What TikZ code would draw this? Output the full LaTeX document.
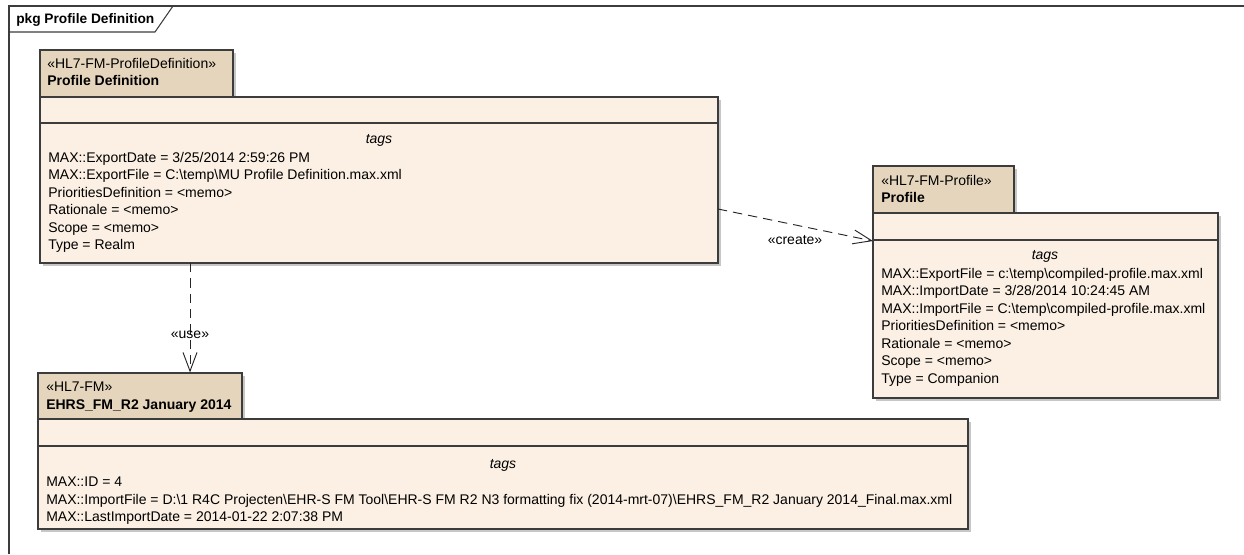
\documentclass[tikz,border=0pt]{standalone}
\usepackage{fontspec}
\setmainfont{Liberation Sans}
\usepackage{xcolor}
\usepackage{tikz}
\usetikzlibrary{fit,shadows,arrows.meta,positioning}

\definecolor{tabfill}{RGB}{229,213,188}
\definecolor{bodyfill}{RGB}{251,240,227}
\definecolor{edgegray}{RGB}{60,60,60}

\tikzset{
    pkgtab/.style={draw=edgegray, line width=0.9pt, fill=tabfill, inner sep=0pt,
        drop shadow={shadow xshift=2.5pt, shadow yshift=-2.5pt, fill=black!22, opacity=1}},
    pkgbody/.style={pkgtab, fill=bodyfill},
    sepline/.style={draw=edgegray, line width=0.8pt},
    frameline/.style={draw=edgegray, line width=0.8pt},
    txt/.style={anchor=north west, inner sep=0pt, align=left, font=\fontsize{10.5}{13.1}\selectfont},
    tagtitle/.style={inner sep=0pt, font=\fontsize{10.5}{13.1}\selectfont\itshape},
    dep/.style={draw=black!85, line width=0.7pt, dash pattern=on 7pt off 4.5pt,
        -{Straight Barb[length=14pt,width=10.5pt,line width=0.7pt]}},
    deplabel/.style={inner sep=0.75pt, font=\fontsize{10.5}{13.1}\selectfont}
}

\begin{document}
\begin{tikzpicture}[x=0.75pt,y=0.75pt,yscale=-1,xscale=1]
    \useasboundingbox (0,0) rectangle (1244,554);
    % frame
    \draw[frameline] (9,554) -- (9,6) -- (1244,6) ;
    \draw[frameline] (9,32) -- (155,32) -- (173,6) ;
    \node[anchor=west, inner sep=0pt, font=\fontsize{10.3}{13.1}\selectfont\bfseries] (frametitle) at (16,20) {pkg Profile Definition};
    % Profile Definition
    \node[pkgtab, fit={(40,50) (233,97)}] (pdtab) {};
    \node[pkgbody, fit={(40,97) (718,263)}] (pdbody) {};
    \draw[sepline] (40,123) -- (718,123) ;
    \node[txt] (pdster) at (47,58) {«HL7-FM-ProfileDefinition»\\\textbf{Profile Definition}};
    \node[tagtitle] (pdtags) at (379,140) {tags};
    \node[txt] (pdvals) at (48,152) {MAX::ExportDate = 3/25/2014 2:59:26 PM\\MAX::ExportFile = C:\textbackslash temp\textbackslash MU Profile Definition.max.xml\\PrioritiesDefinition = <memo>\\Rationale = <memo>\\Scope = <memo>\\Type = Realm};
    % Profile
    \node[pkgtab, fit={(873,166) (1014,213)}] (prtab) {};
    \node[pkgbody, fit={(873,213) (1218,398)}] (prbody) {};
    \draw[sepline] (873,240) -- (1218,240) ;
    \node[txt] (prster) at (881,175) {«HL7-FM-Profile»\\\textbf{Profile}};
    \node[tagtitle] (prtags) at (1045,256) {tags};
    \node[txt] (prvals) at (881,268) {MAX::ExportFile = c:\textbackslash temp\textbackslash compiled-profile.max.xml\\MAX::ImportDate = 3/28/2014 10:24:45 AM\\MAX::ImportFile = C:\textbackslash temp\textbackslash compiled-profile.max.xml\\PrioritiesDefinition = <memo>\\Rationale = <memo>\\Scope = <memo>\\Type = Companion};
    % EHRS_FM_R2
    \node[pkgtab, fit={(38,373) (242,419)}] (ehrstab) {};
    \node[pkgbody, fit={(38,419) (968,529)}] (ehrsbody) {};
    \draw[sepline] (38,446) -- (968,446) ;
    \node[txt] (ehrsster) at (46,382) {«HL7-FM»\\\textbf{EHRS\_FM\_R2 January 2014}};
    \node[tagtitle] (ehrstags) at (503,465) {tags};
    \node[txt] (ehrsvals) at (46,477) {MAX::ID = 4\\MAX::ImportFile = D:\textbackslash 1 R4C Projecten\textbackslash EHR-S FM Tool\textbackslash EHR-S FM R2 N3 formatting fix (2014-mrt-07)\textbackslash EHRS\_FM\_R2 January 2014\_Final.max.xml\\MAX::LastImportDate = 2014-01-22 2:07:38 PM};
    % dependencies
    \coordinate (usefrom) at (190,263);
    \draw[dep] (usefrom) -- (usefrom |- ehrstab.north) ;
    \node[deplabel] (uselbl) at (190,335) {«use»};
    \coordinate (createfrom) at (718,209);
    \coordinate (createto) at (873,241);
    \draw[dep] (createfrom) -- (createto) ;
    \node[deplabel] (createlbl) at (795,240) {«create»};
\end{tikzpicture}
\end{document}
